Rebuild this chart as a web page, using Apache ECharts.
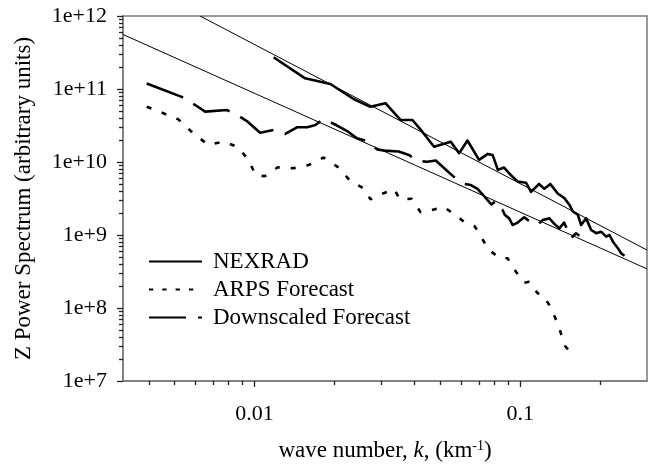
<!DOCTYPE html>
<html>
<head>
<meta charset="utf-8">
<script src="https://cdn.jsdelivr.net/npm/echarts@6/dist/echarts.min.js"></script>
<style>
html, body { margin: 0; padding: 0; background: #ffffff; }
#chart { width: 652px; height: 468px; }
</style>
</head>
<body>
<div id="chart"></div>
<script>
// Wave number k (km^-1) and Z power spectrum values, one [k, power] pair per point
const nexrad = [
  [0.0118, 2.72e11], [0.0155, 1.40e11], [0.0193, 1.17e11], [0.0236, 7.3e10], [0.0273, 5.7e10],
  [0.0311, 6.4e10], [0.0355, 3.76e10], [0.0393, 3.76e10], [0.0428, 2.6e10], [0.0474, 1.62e10],
  [0.0548, 1.9e10], [0.0589, 1.32e10], [0.0633, 1.97e10], [0.0700, 1.07e10], [0.0755, 1.29e10],
  [0.0787, 1.25e10], [0.0824, 7.8e9], [0.0870, 8.4e9], [0.0922, 6.6e9], [0.0978, 5.4e9],
  [0.1051, 5.2e9], [0.1098, 3.9e9], [0.1177, 5.0e9], [0.1232, 4.3e9], [0.1298, 5.0e9],
  [0.1384, 3.7e9], [0.1466, 3.2e9], [0.1531, 2.6e9], [0.1577, 2.1e9], [0.1647, 1.9e9],
  [0.1695, 1.37e9], [0.1770, 1.69e9], [0.1849, 1.17e9], [0.1931, 1.06e9], [0.2016, 1.11e9],
  [0.2106, 9.5e8], [0.2167, 1.0e9], [0.2233, 8.1e8], [0.2331, 6.6e8], [0.2399, 5.6e8],
  [0.2469, 5.2e8]
];

const arps = [
  [0.00393, 5.72e10], [0.00454, 4.65e10], [0.00517, 3.84e10], [0.00589, 2.46e10], [0.00671, 1.71e10],
  [0.00764, 1.91e10], [0.0087, 1.59e10], [0.00949, 1.065e10], [0.0101, 6.63e9], [0.01093, 6.37e9],
  [0.01223, 8.46e9], [0.014, 8.2e9], [0.016, 9.1e9], [0.0182, 1.152e10], [0.02066, 8.46e9],
  [0.02307, 5.37e9], [0.02578, 4.36e9], [0.02733, 3.08e9], [0.0306, 3.73e9], [0.03357, 4.23e9],
  [0.03525, 3.08e9], [0.03902, 3.14e9], [0.04219, 2.05e9], [0.0463, 2.18e9], [0.05139, 2.44e9],
  [0.05769, 1.82e9], [0.06183, 1.49e9], [0.06747, 1.31e9], [0.07125, 9.54e8], [0.07571, 6.37e8],
  [0.08404, 4.8e8], [0.08964, 4.81e8], [0.09634, 3.14e8], [0.1035, 2.22e8], [0.1081, 2.29e8],
  [0.1163, 1.59e8], [0.1215, 1.51e8], [0.1287, 1.1e8], [0.1352, 7.46e7], [0.1416, 4.74e7],
  [0.1475, 3.02e7], [0.1591, 2.17e7]
];

const downscaled = [
  [0.00393, 1.19e11], [0.00532, 7.8e10], [0.00606, 5.85e10], [0.00652, 4.9e10], [0.00787, 5.16e10],
  [0.00846, 4.55e10], [0.00936, 3.64e10], [0.0105, 2.52e10], [0.0118, 2.74e10], [0.01305, 2.42e10],
  [0.01445, 2.99e10], [0.0158, 2.99e10], [0.01695, 3.21e10], [0.0182, 3.88e10], [0.0203, 3.21e10],
  [0.0225, 2.6e10], [0.0243, 2.11e10], [0.0262, 1.96e10], [0.029, 1.48e10], [0.0309, 1.43e10],
  [0.0349, 1.39e10], [0.0381, 1.25e10], [0.0411, 1.03e10], [0.0447, 1.01e10], [0.0481, 1.05e10],
  [0.0529, 7.65e9], [0.058, 5.67e9], [0.0618, 5.0e9], [0.0652, 4.84e9], [0.0691, 4.29e9],
  [0.0717, 3.7e9], [0.0755, 2.97e9], [0.0779, 2.62e9], [0.081, 2.92e9], [0.0833, 2.44e9],
  [0.0858, 2.2e9], [0.0876, 1.88e9], [0.0909, 1.69e9], [0.0936, 1.37e9], [0.0978, 1.48e9],
  [0.1035, 1.75e9], [0.1066, 1.61e9], [0.1163, 1.37e9], [0.1215, 1.61e9], [0.1287, 1.69e9],
  [0.1344, 1.42e9], [0.1404, 1.235e9], [0.1462, 1.48e9], [0.1554, 9.1e8], [0.1622, 1.055e9],
  [0.167, 9.75e8]
];

// Power-law reference lines (end points)
const fitUpper = [[0.00624, 1e12], [0.3, 6.22e8]];
const fitLower = [[0.0032, 5.58e11], [0.3, 3.43e8]];

// Axis ranges and labelled ticks
const xRange = [0.0032, 0.3];
const yRange = [1e7, 1e12];
const xTickLabels = [0.01, 0.1];
const yTickLabels = [1e7, 1e8, 1e9, 1e10, 1e11, 1e12];

// Minor ticks at 2..9 x 10^n inside a range
function minorTicks(lo, hi) {
  const out = [];
  for (let e = Math.floor(Math.log10(lo)); e <= Math.ceil(Math.log10(hi)); e++) {
    for (let m = 2; m <= 9; m++) {
      const v = m * Math.pow(10, e);
      if (v >= lo * 0.9999 && v <= hi * 1.0001) out.push(v);
    }
  }
  return out;
}

const FONT = 'Liberation Serif';
const AXIS_GREY = '#7a7a7a';
const TICK = '#222';

const chart = echarts.init(document.getElementById('chart'), null, { renderer: 'canvas' });

const sci = v => '1e+' + Math.round(Math.log10(v));

chart.setOption({
  animation: false,
  backgroundColor: '#ffffff',
  grid: {
    left: 123, right: 5, top: 16, bottom: 87,
    show: true, borderColor: AXIS_GREY, borderWidth: 1.5, backgroundColor: 'transparent'
  },
  legend: {
    orient: 'vertical',
    left: 143, top: 245,
    itemWidth: 53, itemHeight: 14, itemGap: 5,
    itemStyle: { opacity: 0 },
    textStyle: { fontFamily: FONT, fontSize: 23, color: '#000', padding: [0, 0, 0, 6] },
    data: [
      { name: 'NEXRAD' },
      { name: 'ARPS Forecast', lineStyle: { type: [4.3, 9] } },
      { name: 'Downscaled Forecast', lineStyle: { type: [37, 12] } }
    ]
  },
  xAxis: [
    {
      type: 'log', logBase: 10, min: xRange[0], max: xRange[1], position: 'bottom',
      name: '{a|wave number, }{i|k}{a|, (km}{s|-1}{a|)}',
      nameLocation: 'middle', nameGap: 58,
      nameTextStyle: {
        fontFamily: FONT, fontSize: 23, color: '#000',
        rich: {
          a: { fontFamily: FONT, fontSize: 23, color: '#000' },
          i: { fontFamily: FONT, fontSize: 23, color: '#000', fontStyle: 'italic' },
          s: { fontFamily: FONT, fontSize: 14, color: '#000', verticalAlign: 'top', padding: [0, 0, 8, 0] }
        }
      },
      axisLine: { show: true, onZero: false, lineStyle: { color: AXIS_GREY, width: 1.5 } },
      axisTick: { show: true, inside: false, length: 6, customValues: xTickLabels, lineStyle: { color: TICK, width: 1.3 } },
      axisLabel: {
        customValues: xTickLabels, margin: 22,
        fontFamily: FONT, fontSize: 22, color: '#000',
        formatter: v => String(+v.toPrecision(3))
      },
      splitLine: { show: false }
    },
    {
      type: 'log', logBase: 10, min: xRange[0], max: xRange[1], position: 'bottom',
      axisLine: { show: false },
      axisTick: { show: true, inside: false, length: 4, customValues: minorTicks(xRange[0], xRange[1]), lineStyle: { color: TICK, width: 1.3 } },
      axisLabel: { show: false },
      splitLine: { show: false }
    }
  ],
  yAxis: [
    {
      type: 'log', logBase: 10, min: yRange[0], max: yRange[1], position: 'left',
      name: 'Z Power Spectrum (arbitrary units)',
      nameLocation: 'middle', nameGap: 88,
      nameTextStyle: { fontFamily: FONT, fontSize: 23, color: '#000' },
      axisLine: { show: true, onZero: false, lineStyle: { color: AXIS_GREY, width: 1.5 } },
      axisTick: { show: true, inside: false, length: 6, customValues: yTickLabels, lineStyle: { color: TICK, width: 1.3 } },
      axisLabel: {
        customValues: yTickLabels, margin: 16,
        fontFamily: FONT, fontSize: 22, color: '#000',
        formatter: sci
      },
      splitLine: { show: false }
    },
    {
      type: 'log', logBase: 10, min: yRange[0], max: yRange[1], position: 'left',
      axisLine: { show: false },
      axisTick: { show: true, inside: false, length: 4, customValues: minorTicks(yRange[0], yRange[1]), lineStyle: { color: TICK, width: 1.3 } },
      axisLabel: { show: false },
      splitLine: { show: false }
    }
  ],
  series: [
    {
      name: 'fit-upper', type: 'line', data: fitUpper, symbol: 'none', silent: true,
      lineStyle: { color: '#000', width: 1 }, z: 1
    },
    {
      name: 'fit-lower', type: 'line', data: fitLower, symbol: 'none', silent: true,
      lineStyle: { color: '#000', width: 1 }, z: 1
    },
    {
      name: 'NEXRAD', type: 'line', data: nexrad, symbol: 'none',
      itemStyle: { color: '#000' },
      lineStyle: { color: '#000', width: 2.6, join: 'round' }, z: 3
    },
    {
      name: 'ARPS Forecast', type: 'line', data: arps, symbol: 'none',
      itemStyle: { color: '#000' },
      lineStyle: { color: '#000', width: 2.6, type: [5, 11] }, z: 3
    },
    {
      name: 'Downscaled Forecast', type: 'line', data: downscaled, symbol: 'none',
      itemStyle: { color: '#000' },
      lineStyle: { color: '#000', width: 2.6, type: [39, 12], join: 'round' }, z: 3
    }
  ]
});
</script>
</body>
</html>
